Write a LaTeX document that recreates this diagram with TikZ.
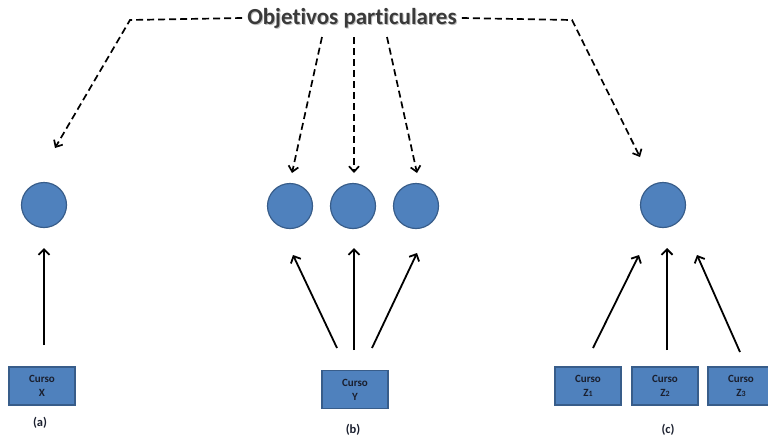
\documentclass[tikz,border=0pt]{standalone}
\usepackage{fontspec}
\setmainfont{Carlito}[Ligatures={NoCommon}]
\usetikzlibrary{arrows.meta}
\definecolor{fillblue}{HTML}{4F81BD}
\definecolor{edgeblue}{HTML}{385D8A}
\definecolor{txtdark}{HTML}{1A1F2E}
\definecolor{titlegray}{HTML}{3A3A3A}
\definecolor{glowgray}{HTML}{C0C0C0}
\tikzset{
  objcircle/.style={circle, fill=fillblue, draw=edgeblue, line width=1.2pt, minimum size=45pt, inner sep=0pt},
  cursobox/.style={rectangle, fill=fillblue, draw=edgeblue, line width=1.2pt, minimum width=66pt, minimum height=38pt, inner sep=0pt, align=center, font=\bfseries\fontsize{11}{14}\selectfont, text=txtdark},
  sublabel/.style={font=\bfseries\fontsize{12.5}{14}\selectfont, text=txtdark},
  titlefont/.style={font=\bfseries\fontsize{23}{26}\selectfont, inner sep=5pt},
  dasharrow/.style={line width=1.7pt, dash pattern=on 7pt off 4pt, -{Straight Barb[length=5.5pt,width=10pt,line width=1.7pt]}},
  solidarrow/.style={line width=1.8pt, -{Straight Barb[length=5.5pt,width=11pt,line width=1.8pt]}}
}
\begin{document}
\begin{tikzpicture}[x=1pt,y=-1pt]
\useasboundingbox (0,0) rectangle (768,437);
\clip (0,0) rectangle (768,437);
% title with soft glow
\node[titlefont, text=glowgray] (titleglow) at (353,19.2) {Objetivos particulares};
\node[titlefont, text=titlegray] (title) at (352,18) {Objetivos particulares};
% circles
\node[objcircle] (ca) at (44,205) {};
\node[objcircle] (cb1) at (290,206) {};
\node[objcircle] (cb2) at (353,206) {};
\node[objcircle] (cb3) at (416,206) {};
\node[objcircle] (cc) at (663,205) {};
% boxes
\node[cursobox] (bx) at (42,386) {Curso\\X};
\node[cursobox] (by) at (355,389.5) {Curso\\Y};
\node[cursobox] (bz1) at (588,386) {Curso\\Z{\fontsize{8}{8}\selectfont 1}};
\node[cursobox] (bz2) at (665,386) {Curso\\Z{\fontsize{8}{8}\selectfont 2}};
\node[cursobox] (bz3) at (741,386) {Curso\\Z{\fontsize{8}{8}\selectfont 3}};
% labels
\node[sublabel] (la) at (40,423) {(a)};
\node[sublabel] (lb) at (353,430) {(b)};
\node[sublabel] (lc) at (668,430) {(c)};
% coordinates for dashed arrows
\coordinate (kl) at (130,20);
\coordinate (kr) at (572,20);
\coordinate (ta) at (55,148);
\coordinate (tc) at (640,157);
\coordinate (s1) at (322,37);
\coordinate (s2) at (354,37);
\coordinate (s3) at (387,37);
\coordinate (t1) at (292,173);
\coordinate (t2) at (354,173);
\coordinate (t3) at (417,173);
\draw[dasharrow] (title.west) -- (kl) -- (ta);
\draw[dasharrow] (title.east) -- (kr) -- (tc);
\draw[dasharrow] (s1) -- (t1);
\draw[dasharrow] (s2) -- (t2);
\draw[dasharrow] (s3) -- (t3);
% solid arrows
\coordinate (pa0) at (44,345); \coordinate (pa1) at (44,248);
\coordinate (pb10) at (337,348); \coordinate (pb11) at (293,255);
\coordinate (pb20) at (354,350); \coordinate (pb21) at (354,248);
\coordinate (pb30) at (372,348); \coordinate (pb31) at (417,253);
\coordinate (pc10) at (593,348); \coordinate (pc11) at (639,255);
\coordinate (pc20) at (667,350); \coordinate (pc21) at (667,248);
\coordinate (pc30) at (740,352); \coordinate (pc31) at (697,255);
\draw[solidarrow] (pa0) -- (pa1);
\draw[solidarrow] (pb10) -- (pb11);
\draw[solidarrow] (pb20) -- (pb21);
\draw[solidarrow] (pb30) -- (pb31);
\draw[solidarrow] (pc10) -- (pc11);
\draw[solidarrow] (pc20) -- (pc21);
\draw[solidarrow] (pc30) -- (pc31);
\end{tikzpicture}
\end{document}
